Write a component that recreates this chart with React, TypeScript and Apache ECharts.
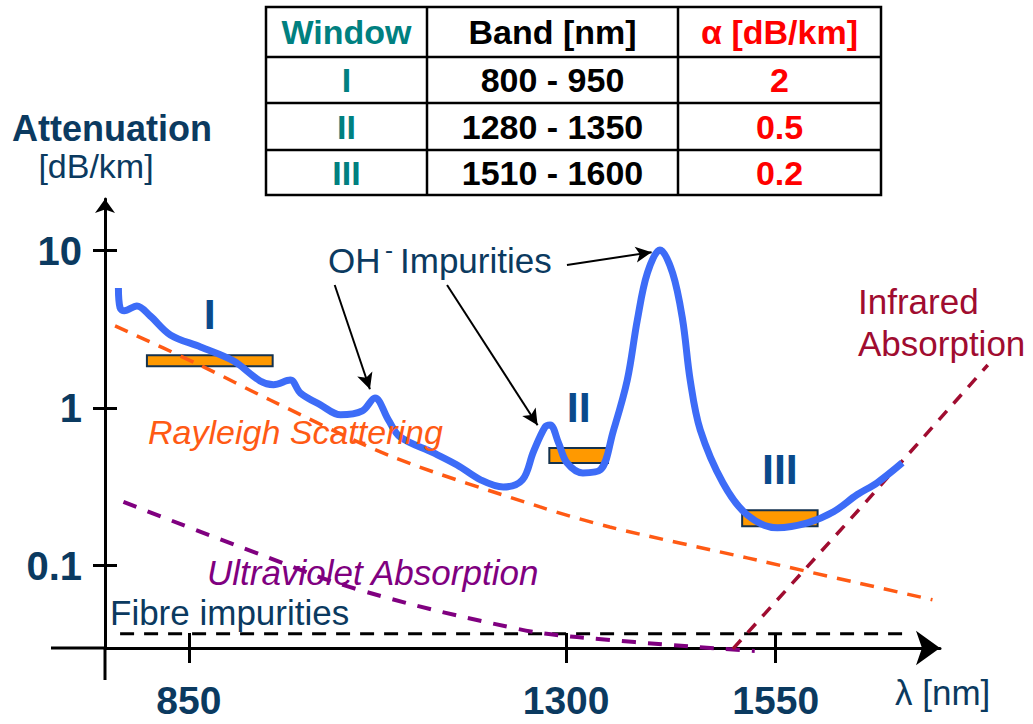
import { useEffect, useRef } from "react";
import * as echarts from "echarts";

const FONT = '"Liberation Sans", Arial, Helvetica, sans-serif';
const NAVY = "#0b3a60";

// Axis ticks
const wavelengthTicks = [850, 1300, 1550];
const attenuationTicks = [0.1, 1, 10];

// Total fibre attenuation [dB/km] versus wavelength [nm]
const lossWavelength = [
  766, 768, 773, 788, 804, 828, 864, 903, 935, 951, 971, 983, 1007, 1031, 1057, 1072,
  1088, 1102, 1142, 1170, 1198, 1225, 1248, 1261, 1275, 1281, 1291, 1301, 1320, 1341,
  1356, 1373, 1385, 1397, 1412, 1427, 1439, 1448, 1460, 1487, 1516, 1552, 1588, 1619,
  1647, 1671, 1701,
];
const lossValue = [
  5.8, 4.33, 4.15, 4.46, 3.85, 2.92, 2.45, 2.0, 1.49, 1.41, 1.51, 1.25, 1.05, 0.907, 0.961, 1.16,
  0.843, 0.657, 0.52, 0.436, 0.351, 0.316, 0.351, 0.528, 0.761, 0.783, 0.602, 0.45, 0.388, 0.406,
  0.707, 1.51, 3.64, 7.23, 10.1, 7.23, 3.64, 1.51, 0.728, 0.336, 0.21, 0.174, 0.187, 0.22,
  0.282, 0.336, 0.45,
];

// Rayleigh scattering
const rayleighWavelength = [762, 863, 947, 1093, 1269, 1352, 1516, 1737];
const rayleighValue = [3.33, 1.88, 1.127, 0.491, 0.236, 0.176, 0.112, 0.0607];

// Ultraviolet absorption
const uvWavelength = [772, 943, 1054, 1237, 1313, 1525];
const uvValue = [0.254, 0.1135, 0.07, 0.0402, 0.0352, 0.0287];

// Infrared absorption
const irWavelength = [1499, 1651, 1803];
const irValue = [0.0296, 0.232, 1.88];

// Fibre impurities floor
const impurityWavelength = [768, 1710];
const impurityValue = [0.037, 0.037];

// Transmission windows
const windowNames = ["I", "II", "III"];
const windowBandLow = [800, 1280, 1510];
const windowBandHigh = [950, 1350, 1600];
const windowAlpha = [2, 0.5, 0.2];

// OH- impurity arrows (start and end, in nm / dB/km)
const ohArrowStart = [
  [1024, 6.06],
  [1158, 6.06],
  [1301, 8.12],
];
const ohArrowEnd = [
  [1066, 1.32],
  [1266, 0.78],
  [1402, 9.79],
];

// Plot frame
const X_MIN = 750;
const X_MAX = 1746;
const Y_MIN = 0.03;
const Y_MAX = 21.3;
const GRID = { left: 105, top: 199, width: 835, height: 449 };
// A wider, invisible twin of the plot frame (same scale) so that the
// infrared curve may run past the end of the wavelength axis.
const WIDE_WIDTH = 900;
const X_MAX_WIDE = X_MIN + ((X_MAX - X_MIN) * WIDE_WIDTH) / GRID.width;
const AXIS_X = GRID.left;
const AXIS_Y = GRID.top + GRID.height;

const pairs = (xs: number[], ys: number[]) => xs.map((x, i) => [x, ys[i]]);
const fmt = (v: number) => String(+Number(v).toPrecision(3));

function buildTable() {
  const cols = [266, 427, 678, 881];
  const rows = [7, 57, 103, 150, 195];
  const colColors = ["#008080", "#000000", "#ff0000"];
  const header = ["Window", "Band [nm]", "α [dB/km]"];
  const body = windowNames.map((n, i) => [
    n,
    `${windowBandLow[i]} - ${windowBandHigh[i]}`,
    fmt(windowAlpha[i]),
  ]);
  const cells = [header, ...body];
  const children: any[] = [
    {
      type: "rect",
      shape: { x: cols[0], y: rows[0], width: cols[3] - cols[0], height: rows[4] - rows[0] },
      style: { fill: "#fff", stroke: "#000", lineWidth: 2.5 },
    },
  ];
  for (let c = 1; c < cols.length - 1; c++) {
    children.push({
      type: "line",
      shape: { x1: cols[c], y1: rows[0], x2: cols[c], y2: rows[4] },
      style: { stroke: "#000", lineWidth: 2.5 },
    });
  }
  for (let r = 1; r < rows.length - 1; r++) {
    children.push({
      type: "line",
      shape: { x1: cols[0], y1: rows[r], x2: cols[3], y2: rows[r] },
      style: { stroke: "#000", lineWidth: 2.5 },
    });
  }
  cells.forEach((row, r) => {
    row.forEach((txt, c) => {
      children.push({
        type: "text",
        x: (cols[c] + cols[c + 1]) / 2,
        y: (rows[r] + rows[r + 1]) / 2,
        style: {
          text: txt,
          font: `bold 34px ${FONT}`,
          fill: colColors[c],
          align: "center",
          verticalAlign: "middle",
        },
      });
    });
  });
  return { type: "group", children };
}

function label(text: string, x: number, y: number, font: string, fill: string, align = "left") {
  return {
    type: "text",
    x,
    y,
    style: { text, font, fill, align, verticalAlign: "middle" },
    z: 10,
  };
}

export default function App() {
  const ref = useRef<HTMLDivElement>(null);

  useEffect(() => {
    if (!ref.current) return;
    const chart = echarts.init(ref.current, null, { renderer: "svg" });
    const barHeights = [11, 15, 16];

    const option: any = {
      animation: false,
      backgroundColor: "#ffffff",
      grid: [
        { ...GRID, containLabel: false },
        { left: GRID.left, top: GRID.top, width: WIDE_WIDTH, height: GRID.height, containLabel: false },
      ],
      xAxis: [
        {
          type: "value",
          min: X_MIN,
          max: X_MAX,
          position: "bottom",
          axisLine: {
            show: true,
            onZero: false,
            lineStyle: { color: "#000", width: 3 },
            symbol: ["none", "arrow"],
            symbolSize: [26, 24],
          },
          axisTick: {
            show: true,
            length: 15,
            customValues: wavelengthTicks,
            lineStyle: { color: "#000", width: 3 },
          },
          axisLabel: {
            customValues: wavelengthTicks,
            margin: 33,
            fontFamily: FONT,
            fontWeight: "bold",
            fontSize: 39,
            lineHeight: 38,
            color: NAVY,
            formatter: (v: number) => fmt(v),
          },
          splitLine: { show: false },
        },
        {
          type: "value",
          min: X_MIN,
          max: X_MAX,
          position: "bottom",
          axisLine: { show: false, onZero: false },
          axisTick: {
            show: true,
            inside: true,
            length: 15,
            customValues: wavelengthTicks,
            lineStyle: { color: "#000", width: 3 },
          },
          axisLabel: { show: false },
          splitLine: { show: false },
        },
        {
          type: "value",
          gridIndex: 1,
          min: X_MIN,
          max: X_MAX_WIDE,
          show: false,
        },
      ],
      yAxis: [
        {
          type: "log",
          logBase: 10,
          min: Y_MIN,
          max: Y_MAX,
          position: "left",
          axisLine: {
            show: true,
            onZero: false,
            lineStyle: { color: "#000", width: 3 },
            symbol: ["none", "arrow"],
            symbolSize: [15, 14],
          },
          axisTick: {
            show: true,
            length: 12,
            customValues: attenuationTicks,
            lineStyle: { color: "#000", width: 3 },
          },
          axisLabel: {
            customValues: attenuationTicks,
            margin: 23,
            fontFamily: FONT,
            fontWeight: "bold",
            fontSize: 40,
            color: NAVY,
            formatter: (v: number) => fmt(v),
          },
          splitLine: { show: false },
        },
        {
          type: "log",
          logBase: 10,
          min: Y_MIN,
          max: Y_MAX,
          position: "left",
          axisLine: { show: false, onZero: false },
          axisTick: {
            show: true,
            inside: true,
            length: 12,
            customValues: attenuationTicks,
            lineStyle: { color: "#000", width: 3 },
          },
          axisLabel: { show: false },
          splitLine: { show: false },
        },
        {
          type: "log",
          logBase: 10,
          gridIndex: 1,
          min: Y_MIN,
          max: Y_MAX,
          show: false,
        },
      ],
      series: [
        {
          type: "custom",
          name: "Windows",
          coordinateSystem: "cartesian2d",
          z: 1,
          silent: true,
          data: windowNames.map((_, i) => [windowBandLow[i], windowBandHigh[i], windowAlpha[i]]),
          encode: { x: [0, 1], y: 2 },
          renderItem: (params: any, api: any) => {
            const lo = api.coord([api.value(0), api.value(2)]);
            const hi = api.coord([api.value(1), api.value(2)]);
            const h = barHeights[params.dataIndex];
            return {
              type: "group",
              children: [
                {
                  type: "rect",
                  shape: { x: lo[0], y: lo[1] - h / 2, width: hi[0] - lo[0], height: h },
                  style: { fill: "#ff9900", stroke: "#14324f", lineWidth: 2 },
                },
                {
                  type: "text",
                  x: (lo[0] + hi[0]) / 2,
                  y: lo[1] - h / 2 - 41,
                  style: {
                    text: windowNames[params.dataIndex],
                    font: `bold 43px ${FONT}`,
                    fill: "#0a4a8c",
                    align: "center",
                    verticalAlign: "middle",
                  },
                },
              ],
            };
          },
        },
        {
          type: "line",
          name: "Fibre impurities",
          data: pairs(impurityWavelength, impurityValue),
          symbol: "none",
          silent: true,
          lineStyle: { color: "#000", width: 3, type: [14, 10] },
          z: 3,
        },
        {
          type: "line",
          name: "Ultraviolet Absorption",
          data: pairs(uvWavelength, uvValue),
          symbol: "none",
          silent: true,
          smooth: 0.4,
          clip: false,
          lineStyle: { color: "#800080", width: 4, type: [14, 12] },
          z: 3,
        },
        {
          type: "line",
          name: "Rayleigh Scattering",
          data: pairs(rayleighWavelength, rayleighValue),
          symbol: "none",
          silent: true,
          smooth: 0.3,
          lineStyle: { color: "#ff5a14", width: 3.5, type: [14, 10] },
          z: 3,
        },
        {
          type: "line",
          name: "Infrared Absorption",
          xAxisIndex: 2,
          yAxisIndex: 2,
          data: pairs(irWavelength, irValue),
          symbol: "none",
          silent: true,
          clip: false,
          lineStyle: { color: "#a00c30", width: 3.5, type: [12, 10] },
          z: 3,
        },
        {
          type: "line",
          name: "Attenuation",
          data: pairs(lossWavelength, lossValue),
          symbol: "none",
          silent: true,
          smooth: 0.35,
          lineStyle: { color: "#3d6cf7", width: 7 },
          z: 5,
          markLine: {
            silent: true,
            symbol: ["none", "arrow"],
            symbolSize: [12, 16],
            lineStyle: { color: "#000", width: 2, type: "solid" },
            label: { show: false },
            emphasis: { disabled: true },
            data: ohArrowStart.map((s, i) => [{ coord: s }, { coord: ohArrowEnd[i] }]),
          },
        },
      ],
      graphic: [
        // axis extensions through the origin
        {
          type: "line",
          shape: { x1: 51, y1: AXIS_Y, x2: AXIS_X, y2: AXIS_Y },
          style: { stroke: "#000", lineWidth: 3 },
        },
        {
          type: "line",
          shape: { x1: AXIS_X, y1: AXIS_Y, x2: AXIS_X, y2: 680 },
          style: { stroke: "#000", lineWidth: 3 },
        },
        buildTable(),
        label("Attenuation", 12, 128, `bold 36px ${FONT}`, NAVY),
        label("[dB/km]", 96, 166, `34px ${FONT}`, NAVY, "center"),
        label("OH", 328, 260, `35px ${FONT}`, NAVY),
        label("-", 385, 249, `24px ${FONT}`, NAVY),
        label("Impurities", 400, 260, `35px ${FONT}`, NAVY),
        label("Rayleigh Scattering", 148, 432, `italic 34px ${FONT}`, "#ff5a14"),
        label("Ultraviolet Absorption", 207, 572, `italic 35px ${FONT}`, "#800080"),
        label("Fibre impurities", 110, 612, `35px ${FONT}`, NAVY),
        label("Infrared", 858, 301, `35px ${FONT}`, "#a00c30"),
        label("Absorption", 858, 343, `35px ${FONT}`, "#a00c30"),
        label("λ [nm]", 895, 692, `35px ${FONT}`, NAVY),
      ],
    };

    chart.setOption(option);
    return () => chart.dispose();
  }, []);

  return (
    <div
      ref={ref}
      style={{ position: "absolute", left: 0, top: 0, width: 1033, height: 724, background: "#fff" }}
    />
  );
}
